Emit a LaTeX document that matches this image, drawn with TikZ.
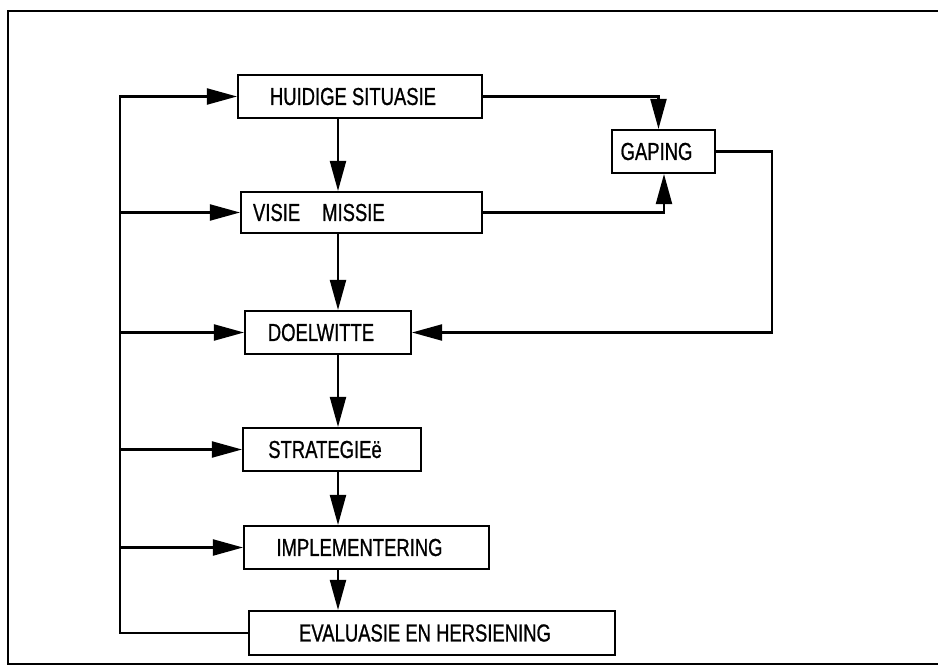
\documentclass[tikz,border=0pt]{standalone}
\usepackage{fontspec}
\setsansfont{Liberation Sans}[FakeStretch=0.75, FakeBold=0.8]
\usepackage{tikz}
\usetikzlibrary{arrows.meta, calc, positioning}

\tikzset{
  blok/.style={draw, line width=1.2pt, inner sep=0pt, minimum height=0.86cm,
    font=\sffamily\fontsize{14}{16}\selectfont},
  sblok/.style={blok, execute at begin node=\hspace*{-0.28cm}},
  pyl/.style={line width=1.2pt, -{Triangle[length=0.6cm, width=0.32cm]}},
  lyn/.style={line width=1.2pt}
}

\begin{document}
\begin{tikzpicture}[x=0.02cm, y=-0.02cm]
      \useasboundingbox (0,0) rectangle (938,666);
      \draw[lyn, line width=1.4pt] (938,11) -- (8,11) -- (8,664) -- (938,664);
      % hulplyne
      \coordinate (bus) at (120,0);
      \coordinate (spil) at (338,0);
      \coordinate (terug) at (772,0);
      % blokke
      \node[sblok, minimum width=4.88cm] (huidige) at (360,96.5) {HUIDIGE SITUASIE};
      \node[blok, minimum height=0.82cm, inner xsep=0.24cm, text width=4.34cm, align=left] (visie) at (361.5,212.5) {VISIE\hspace{0.44cm}MISSIE};
      \node[sblok, minimum width=2.06cm] (gaping) at (663.5,151.5) {GAPING};
      \node[sblok, minimum width=3.32cm] (doel) at (328,332.5) {DOELWITTE};
      \node[sblok, minimum width=3.56cm] (strat) at (332,449.5) {STRATEGIEë};
      \node[sblok, minimum width=4.90cm] (impl) at (366.5,547.5) {IMPLEMENTERING};
      \node[sblok, minimum width=7.32cm, minimum height=0.88cm] (eval) at (432,633) {EVALUASIE EN HERSIENING};
      % afwaarts
      \draw[pyl] (huidige.south -| spil) -- (visie.north -| spil);
      \draw[pyl] (visie.south -| spil) -- (doel.north -| spil);
      \draw[pyl] (doel.south -| spil) -- (strat.north -| spil);
      \draw[pyl] (strat.south -| spil) -- (impl.north -| spil);
      \draw[pyl] (impl.south -| spil) -- (eval.north -| spil);
      % gaping
      \draw[pyl] (huidige.east) -| ([xshift=-0.1cm]gaping.north);
      \draw[pyl] (visie.east) -| ([xshift=0.01cm]gaping.south);
      \draw[pyl] (gaping.east) -| (terug |- doel.east) -- (doel.east);
      % terugvoer
      \draw[pyl] (eval.west) -| (bus |- huidige.west) -- (huidige.west);
      \foreach \n in {visie, doel, strat, impl}
        \draw[pyl] (bus |- \n.west) -- (\n.west);
\end{tikzpicture}
\end{document}
